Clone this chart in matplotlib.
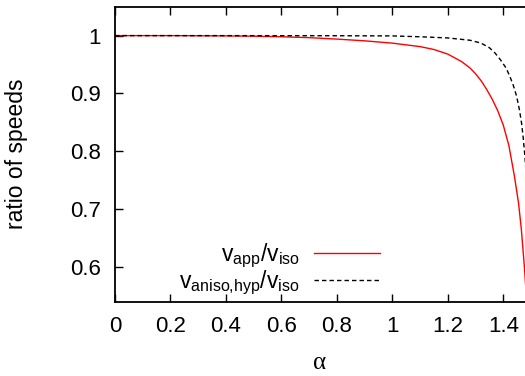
import numpy as np
import matplotlib
matplotlib.use("Agg")
import matplotlib.pyplot as plt

plt.rcParams['font.family'] = ['Liberation Sans', 'DejaVu Sans']
plt.rcParams['mathtext.fontset'] = 'custom'
plt.rcParams['mathtext.rm'] = 'Liberation Sans'

# values
alpha_app = [0.0, 0.2, 0.4, 0.5, 0.6, 0.7, 0.8, 0.9, 1.0, 1.1, 1.15, 1.2, 1.25,
             1.28, 1.3, 1.32, 1.34, 1.36, 1.38, 1.40, 1.42, 1.44, 1.455, 1.465,
             1.476, 1.49, 1.51]
v_app = [1.0, 1.0, 0.9995, 0.999, 0.998, 0.9965, 0.994, 0.991, 0.987, 0.981,
         0.976, 0.968, 0.955, 0.944, 0.934, 0.922, 0.907, 0.89, 0.87, 0.845,
         0.81, 0.757, 0.71, 0.665, 0.60, 0.50, 0.35]

alpha_hyp = [0.0, 0.4, 0.8, 1.0, 1.1, 1.2, 1.28, 1.32, 1.35, 1.37, 1.39, 1.41,
             1.424, 1.436, 1.448, 1.458, 1.466, 1.472, 1.478, 1.49, 1.51]
v_hyp = [1.0, 1.0, 0.9998, 0.9995, 0.998, 0.996, 0.992, 0.987, 0.979, 0.97,
         0.958, 0.944, 0.929, 0.914, 0.895, 0.872, 0.848, 0.822, 0.79, 0.71, 0.55]

fig = plt.figure(figsize=(5.25, 3.76), dpi=100)
ax = fig.add_axes([115/525, 1 - 301.7/376, 435.7/525, 295/376])

ax.plot(alpha_app, v_app, color='red', lw=1.0,
        label=r'$\mathregular{v_{app}/v_{iso}}$')
ax.plot(alpha_hyp, v_hyp, color='black', lw=1.0, ls=(0, (3.2, 2.2)),
        label=r'$\mathregular{v_{aniso{,}hyp}/v_{iso}}$')

ax.set_xlim(0, 1.5708)
ax.set_ylim(0.54, 1.05)
ax.set_xticks([0, 0.2, 0.4, 0.6, 0.8, 1, 1.2, 1.4])
ax.set_xticklabels(['0', '0.2', '0.4', '0.6', '0.8', '1', '1.2', '1.4'])
ax.set_yticks([0.6, 0.7, 0.8, 0.9, 1])
ax.set_yticklabels(['0.6', '0.7', '0.8', '0.9', '1'])
ax.tick_params(direction='in', top=True, right=True, length=6, width=1.0,
               labelsize=16, pad=10)
for s in ax.spines.values():
    s.set_linewidth(1.3)

ax.set_ylabel('ratio of speeds', fontsize=16.5)
ax.yaxis.set_label_coords(-0.2, 0.5)
ax.set_xlabel('α', fontsize=18, family='Liberation Serif', va='center')
ax.xaxis.set_label_coords(0.4705, -0.208)

ax.legend(loc='lower right', bbox_to_anchor=(380/525, 1 - 297/376),
          bbox_transform=fig.transFigure, frameon=False, markerfirst=False,
          fontsize=16.5, handlelength=2.9, handletextpad=0.6, borderpad=0,
          borderaxespad=0, labelspacing=-0.05)

fig.savefig('out.png', dpi=100)
